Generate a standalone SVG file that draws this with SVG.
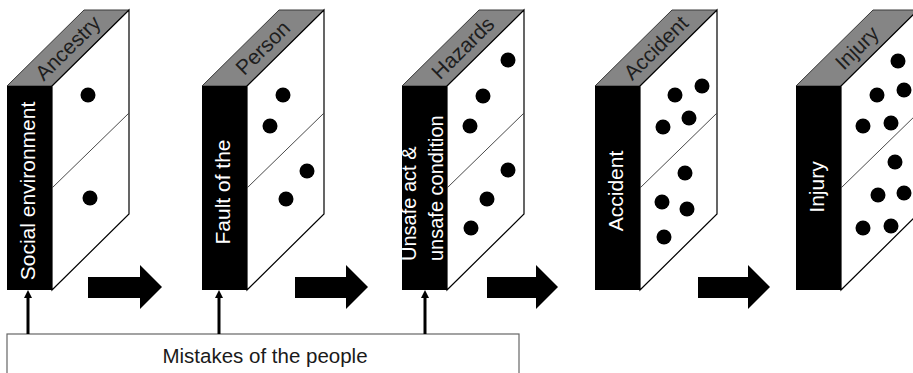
<svg xmlns="http://www.w3.org/2000/svg" width="913" height="373" viewBox="0 0 913 373">
  <style>
    .top { fill: #858585; stroke: #3a3a3a; stroke-width: 1; }
    .side { fill: #ffffff; stroke: #000000; stroke-width: 1.2; }
    .mid { fill: none; stroke: #4a4a4a; stroke-width: 1; }
    .front { fill: #000000; }
    .dot { fill: #000000; }
    .lbl { font-family: "Liberation Sans", Arial, sans-serif; font-size: 21px; }
    .topLbl { fill: #1e1e1e; text-anchor: middle; }
    .frontLbl { fill: #ffffff; text-anchor: middle; }
    .frontLbl2 { fill: #ffffff; text-anchor: start; font-size: 20px; }
    .box { fill: #ffffff; stroke: #666666; stroke-width: 1.2; }
    .boxLbl { fill: #1a1a1a; text-anchor: middle; font-size: 20.5px; }
    .block { fill: #000000; }
    .up { stroke: #000000; stroke-width: 3; fill: none; }
    .head { fill: #000000; }
  </style>
  <defs>
    <!-- shared domino body: top face, side face, divider, front face -->
    <g id="body">
      <polygon class="top" points="0,86 45,86 122,10 77,10"/>
      <polygon class="side" points="45,86 122,10 122,214 45,290"/>
      <line class="mid" x1="45" y1="188" x2="122" y2="113"/>
      <rect class="front" x="0" y="86" width="45" height="204"/>
    </g>
  </defs>

  <!-- Domino 1 -->
  <g id="ancestry" transform="translate(7,0)">
    <use href="#body"/>
    <circle class="dot" cx="81" cy="95" r="7.5"/>
    <circle class="dot" cx="83" cy="198" r="7.5"/>
    <text class="lbl topLbl" transform="translate(61,48) rotate(-44.6)" y="7">Ancestry</text>
    <text class="lbl frontLbl" transform="translate(28,191) rotate(-90)">Social environment</text>
  </g>

  <!-- Domino 2 -->
  <g id="person" transform="translate(202,0)">
    <use href="#body"/>
    <circle class="dot" cx="81" cy="95" r="7.5"/>
    <circle class="dot" cx="68" cy="126" r="7.5"/>
    <circle class="dot" cx="105" cy="171" r="7.5"/>
    <circle class="dot" cx="84" cy="199" r="7.5"/>
    <text class="lbl topLbl" transform="translate(61,48) rotate(-44.6)" y="7">Person</text>
    <text class="lbl frontLbl" transform="translate(28,192) rotate(-90)">Fault of the</text>
  </g>

  <!-- Domino 3 -->
  <g id="hazards" transform="translate(402,0)">
    <use href="#body"/>
    <circle class="dot" cx="106" cy="60" r="7.5"/>
    <circle class="dot" cx="81" cy="96" r="7.5"/>
    <circle class="dot" cx="68" cy="126" r="7.5"/>
    <circle class="dot" cx="106" cy="170" r="7.5"/>
    <circle class="dot" cx="85" cy="199" r="7.5"/>
    <circle class="dot" cx="69" cy="228" r="7.5"/>
    <text class="lbl topLbl" transform="translate(61,48) rotate(-44.6)" y="7">Hazards</text>
    <text class="lbl frontLbl2" transform="translate(0,261) rotate(-90)">
      <tspan x="0" y="14">Unsafe act &amp;</tspan>
      <tspan x="0" y="41">unsafe condition</tspan>
    </text>
  </g>

  <!-- Domino 4 -->
  <g id="accident" transform="translate(595,0)">
    <use href="#body"/>
    <circle class="dot" cx="107" cy="86" r="7.5"/>
    <circle class="dot" cx="80" cy="95" r="7.5"/>
    <circle class="dot" cx="94" cy="118" r="7.5"/>
    <circle class="dot" cx="68" cy="127" r="7.5"/>
    <circle class="dot" cx="90" cy="173" r="7.5"/>
    <circle class="dot" cx="67" cy="202" r="7.5"/>
    <circle class="dot" cx="92" cy="209" r="7.5"/>
    <circle class="dot" cx="69" cy="237" r="7.5"/>
    <text class="lbl topLbl" transform="translate(61,48) rotate(-44.6)" y="7">Accident</text>
    <text class="lbl frontLbl" transform="translate(28,191) rotate(-90)">Accident</text>
  </g>

  <!-- Domino 5 -->
  <g id="injury" transform="translate(796,0)">
    <use href="#body"/>
    <circle class="dot" cx="102" cy="61" r="7.5"/>
    <circle class="dot" cx="81" cy="95" r="7.5"/>
    <circle class="dot" cx="108" cy="90" r="7.5"/>
    <circle class="dot" cx="67" cy="126" r="7.5"/>
    <circle class="dot" cx="95" cy="123" r="7.5"/>
    <circle class="dot" cx="99" cy="162" r="7.5"/>
    <circle class="dot" cx="82" cy="195" r="7.5"/>
    <circle class="dot" cx="108" cy="193" r="7.5"/>
    <circle class="dot" cx="67" cy="228" r="7.5"/>
    <circle class="dot" cx="95" cy="226" r="7.5"/>
    <text class="lbl topLbl" transform="translate(61,48) rotate(-44.6)" y="7">Injury</text>
    <text class="lbl frontLbl" transform="translate(28,187) rotate(-90)">Injury</text>
  </g>

  <!-- Base box -->
  <g id="mistakes">
    <rect class="box" x="7" y="334" width="512" height="50"/>
    <text class="lbl boxLbl" x="265" y="363">Mistakes of the people</text>
  </g>

  <!-- Connectors -->
  <g id="connectors">
    <path class="block" d="M88,277 H140 V265 L162,287 L140,309 V298 H88 Z"/>
    <path class="block" d="M295,277 H346 V265 L368,287 L346,309 V298 H295 Z"/>
    <path class="block" d="M487,277 H536 V265 L558,287 L536,309 V298 H487 Z"/>
    <path class="block" d="M698,277 H748 V265 L770,287 L748,309 V298 H698 Z"/>

    <line class="up" x1="28" y1="334" x2="28" y2="297"/>
    <polygon class="head" points="28,290 24,298 32,298"/>
    <line class="up" x1="219" y1="334" x2="219" y2="297"/>
    <polygon class="head" points="219,290 215,298 223,298"/>
    <line class="up" x1="425" y1="334" x2="425" y2="297"/>
    <polygon class="head" points="425,290 421,298 429,298"/>
  </g>
</svg>
